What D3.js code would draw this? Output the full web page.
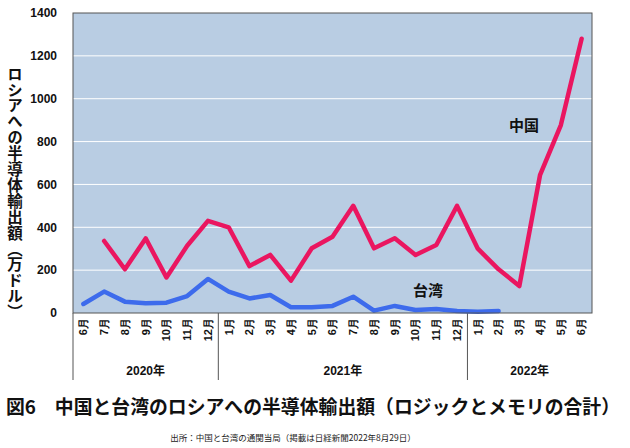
<!DOCTYPE html>
<html><head><meta charset="utf-8">
<script src="https://cdn.jsdelivr.net/npm/d3@7"></script>
<style>
body{margin:0;background:#fff;}
svg{display:block;font-family:"Liberation Sans","Noto Sans CJK JP",sans-serif;}
</style></head>
<body>
<svg id="c" width="630" height="448"></svg>
<script>
const months = ["6月","7月","8月","9月","10月","11月","12月",
  "1月","2月","3月","4月","5月","6月","7月","8月","9月","10月","11月","12月",
  "1月","2月","3月","4月","5月","6月"];
const years = [{label:"2020年", start:0, end:7},{label:"2021年", start:7, end:19},{label:"2022年", start:19, end:25}];
const china = [null,336,204,348,166,314,430,400,219,271,151,302,356,500,302,349,271,317,500,300,204,126,645,877,1280];
const taiwan = [42,100,53,45,48,79,159,100,68,84,27,27,33,76,11,33,14,19,9,6,9,null,null,null,null];
const yTicks = [0,200,400,600,800,1000,1200,1400];

const svg = d3.select("#c");
const L=73, R=592, T=13, B=313;
const x = d3.scaleBand().domain(d3.range(months.length)).range([L,R]);
const y = d3.scaleLinear().domain([0,1400]).range([B,T]);

svg.append("rect").attr("x",L).attr("y",T).attr("width",R-L).attr("height",B-T).attr("fill","#b9cde3");
svg.append("g").selectAll("line").data(yTicks.filter(d=>d>0&&d<1400)).join("line")
  .attr("x1",L).attr("x2",R).attr("y1",d=>y(d)).attr("y2",d=>y(d))
  .attr("stroke","#ffffff").attr("stroke-width",1);

// y axis labels
const ya = svg.append("g").attr("transform",`translate(${L},0)`)
  .call(d3.axisLeft(y).tickValues(yTicks).tickFormat(d3.format("d")).tickSize(0).tickPadding(16));
ya.select(".domain").remove();
ya.selectAll("text").attr("font-size",12).attr("font-weight","bold").attr("fill","#111")
  .attr("font-family","Liberation Sans, sans-serif");

// x axis month labels
const xa = svg.append("g").attr("transform",`translate(0,${B})`)
  .call(d3.axisBottom(x).tickFormat(i=>months[i]).tickSize(0));
xa.select(".domain").remove();
xa.selectAll("text").attr("font-size",11).attr("font-weight","bold").attr("fill","#111")
  .attr("transform","rotate(-90)").attr("text-anchor","end").attr("dx","-5px").attr("dy","0.35em").attr("x",0).attr("y",0);

// separators
const sepIdx = [0,7,19];
svg.append("g").selectAll("line").data(sepIdx).join("line")
  .attr("x1",d=>x(d)).attr("x2",d=>x(d)).attr("y1",B).attr("y2",380)
  .attr("stroke","#555").attr("stroke-width",1);
svg.append("g").selectAll("text").data(years).join("text")
  .attr("x",d=>(x(d.start)+ (d.end<months.length? x(d.end): R))/2).attr("y",375)
  .attr("text-anchor","middle").attr("font-size",12).attr("font-weight","bold").attr("fill","#111")
  .text(d=>d.label);

// lines
const line = d3.line().defined(d=>d!=null).x((d,i)=>x(i)+x.bandwidth()/2).y(d=>y(d));
svg.append("path").datum(taiwan).attr("d",line).attr("fill","none").attr("stroke","#3d6bec")
  .attr("stroke-width",4.5).attr("stroke-linejoin","round").attr("stroke-linecap","round");
svg.append("path").datum(china).attr("d",line).attr("fill","none").attr("stroke","#ea1660")
  .attr("stroke-width",4.5).attr("stroke-linejoin","round").attr("stroke-linecap","round");

// plot border
svg.append("rect").attr("x",L).attr("y",T).attr("width",R-L).attr("height",B-T)
  .attr("fill","none").attr("stroke","#555").attr("stroke-width",1);

// series labels
svg.append("text").attr("x",524).attr("y",131).attr("text-anchor","middle").attr("font-size",15)
  .attr("font-weight","bold").attr("fill","#111").text("中国");
svg.append("text").attr("x",428).attr("y",296).attr("text-anchor","middle").attr("font-size",15)
  .attr("font-weight","bold").attr("fill","#111").text("台湾");

// y title
svg.append("text").attr("x",15).attr("y",66).style("writing-mode","vertical-rl")
  .attr("font-size",15.5).attr("letter-spacing",0.4).attr("font-weight","bold").attr("fill","#111")
  .attr("font-family","Noto Sans CJK JP, sans-serif")
  .text("ロシアへの半導体輸出額（万ドル）");

// title
svg.append("text").attr("x",6).attr("y",414).attr("font-size",19).attr("font-weight","bold").attr("fill","#111")
  .attr("font-family","Noto Sans CJK JP, sans-serif")
  .attr("textLength",614).attr("lengthAdjust","spacingAndGlyphs")
  .text("図6　中国と台湾のロシアへの半導体輸出額（ロジックとメモリの合計）");
svg.append("text").attr("x",293).attr("y",441).attr("text-anchor","middle").attr("font-size",8.5).attr("fill","#222")
  .attr("font-family","Noto Sans CJK JP, sans-serif")
  .text("出所：中国と台湾の通関当局（掲載は日経新聞2022年8月29日）");
</script>
</body></html>
